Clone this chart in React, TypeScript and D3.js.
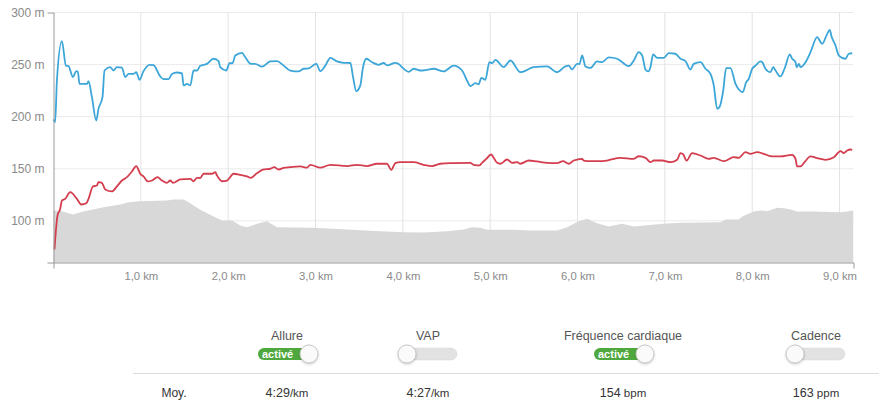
import React, { useEffect, useRef } from "react";
import * as d3 from "d3";

// Distance (km) / value pairs. Values are in the y-axis unit (m scale).
const paceKm = [0,0.019,0.039,0.096,0.142,0.172,0.222,0.26,0.279,0.298,0.383,0.401,0.44,0.489,0.515,0.561,0.584,0.649,0.687,0.726,0.784,0.821,0.859,0.916,0.947,0.985,1.031,1.1,1.145,1.222,1.26,1.317,1.356,1.413,1.471,1.489,1.528,1.566,1.604,1.643,1.68,1.757,1.833,1.89,1.909,1.978,2.016,2.05,2.081,2.158,2.196,2.261,2.31,2.387,2.482,2.559,2.635,2.711,2.806,2.864,2.921,3.009,3.055,3.112,3.17,3.246,3.322,3.399,3.43,3.467,3.513,3.544,3.582,3.647,3.723,3.78,3.819,3.914,3.952,4.009,4.066,4.124,4.2,4.277,4.353,4.467,4.582,4.678,4.735,4.773,4.83,4.868,4.899,4.945,4.991,5.022,5.06,5.155,5.231,5.346,5.498,5.652,5.766,5.861,5.899,5.938,5.995,6.022,6.053,6.091,6.148,6.224,6.282,6.357,6.454,6.511,6.586,6.644,6.701,6.74,6.778,6.809,6.835,6.866,6.912,6.987,7.045,7.121,7.179,7.236,7.293,7.331,7.408,7.465,7.522,7.56,7.599,7.629,7.668,7.702,7.751,7.809,7.866,7.892,7.931,7.961,8,8.038,8.095,8.115,8.152,8.209,8.24,8.267,8.324,8.37,8.431,8.458,8.496,8.508,8.534,8.553,8.611,8.668,8.744,8.802,8.851,8.889,8.905,8.954,8.992,9.068,9.106,9.145];
const paceVal = [197.3,194.7,234.7,272.5,249,248.5,238,243.7,243,231.5,231.5,234,218.7,196.3,207.5,218.7,244.3,247.5,244.3,247.5,247,238,241,241,242.7,235.4,243.7,249.8,249.5,238.6,236,236,241,242.4,241.5,230,231.5,230,244.3,244.3,248.8,250.7,255.6,253.3,247.5,244.3,251.3,251.3,258.7,261.3,257,250.7,250.7,248,253,253.3,249,244.3,243.4,246,246.4,250.7,243.7,249,256.5,253,251.7,251.5,238,224.5,230,247.5,255.6,252.3,249.8,251.5,249.2,251.7,250.5,246,243,246,244.3,245,246,243.4,249,244.3,234.7,229.3,232.2,231,237.3,235.4,252.3,251.5,254.6,247.5,253.9,242.7,247.5,248.2,242.7,248.2,249,245.3,250.7,250.5,258.7,248.2,246.8,253,252.3,257,255.6,252.3,248.5,253.9,261.9,258.7,245.3,243.4,247.5,259.7,256.5,256.5,261,260.4,255.6,253.3,245.3,250.7,252.3,246,241,230,207.5,209.8,225.1,246.6,246.6,231.5,224.5,223.5,233.1,236.3,246,249,253,252.3,246,242.7,247.5,244.3,238.6,246,259.7,255.6,252.3,247.5,250.7,247.5,252.3,261.9,276.3,269.9,278,283.4,278,268.3,258.7,255.6,260.4,260.9];

const hrKm = [0.011,0.046,0.077,0.096,0.134,0.191,0.268,0.317,0.375,0.401,0.451,0.497,0.515,0.554,0.592,0.669,0.726,0.784,0.841,0.898,0.947,0.993,1.031,1.081,1.127,1.191,1.242,1.299,1.337,1.368,1.451,1.566,1.604,1.643,1.68,1.718,1.814,1.852,1.872,1.929,1.986,2.062,2.139,2.215,2.261,2.33,2.405,2.482,2.528,2.577,2.635,2.711,2.826,2.903,2.94,3.055,3.17,3.361,3.475,3.59,3.704,3.819,3.868,3.914,3.971,4.124,4.238,4.334,4.429,4.582,4.773,4.811,4.876,4.907,4.956,5.01,5.04,5.079,5.117,5.194,5.251,5.308,5.346,5.441,5.537,5.652,5.766,5.835,5.899,5.957,6.053,6.071,6.148,6.262,6.339,6.491,6.644,6.701,6.778,6.835,6.873,6.969,7.064,7.141,7.179,7.21,7.248,7.313,7.408,7.503,7.56,7.675,7.789,7.847,7.923,7.98,8.057,8.133,8.229,8.324,8.458,8.496,8.515,8.553,8.599,8.668,8.744,8.839,8.935,9.011,9.049,9.088,9.126,9.145];
const hrVal = [72.5,105.1,111.6,119.5,121.1,127.5,121.1,115.7,116.9,121.1,133,133.9,137.1,136.5,130.1,128.2,133,138.7,141.9,147.4,152.5,145.2,142.6,137.8,138.7,141.9,138.7,136.5,138.7,136.5,139.7,140.3,138,141.3,141,145.2,145.2,146.7,143.5,138,138.7,145.2,144.2,142.6,141.3,145.8,149.3,150,151.5,149.3,150.9,151.5,152.2,151,153.8,151,153.8,152.5,153.8,152.5,154.8,154.8,149,155.4,156.3,156.3,153.8,152.5,154.8,155.4,155.7,153.8,153.2,155.7,159.5,163.7,160.5,155.7,154.8,158.9,155.7,156.3,154.8,157.9,157,155.7,155.4,157.3,154.8,157.9,159.5,157.9,157.3,157.3,157.9,160.5,159.5,162,160.5,156.3,157.9,157.9,156.3,158.6,165,163.7,157.9,165,162.7,159.5,160.5,157.3,161.1,160.5,165.9,164.3,165.9,164.3,161.8,161.8,163.4,159.5,152.2,152.2,156.3,161.8,160.2,158.6,161.1,166.9,165,167.5,168.5,168.2];

const elevKm = [0,0.096,0.222,0.344,0.573,0.764,0.859,0.993,1.299,1.375,1.489,1.546,1.68,1.833,1.929,2.044,2.139,2.215,2.33,2.444,2.559,2.978,3.361,3.742,4.009,4.238,4.506,4.696,4.792,4.887,4.965,5.269,5.46,5.766,5.881,6.014,6.11,6.225,6.357,6.511,6.644,6.987,7.179,7.637,7.694,7.847,7.886,8.018,8.095,8.171,8.286,8.362,8.439,8.515,8.706,9.011,9.088,9.157];
const elevVal = [109.9,109.3,106.1,109,113.1,115.7,117.9,118.9,119.5,120.5,120.5,117.9,110.6,104.2,100.3,100.3,95.5,93.9,97.1,99.7,93.9,93.3,91.7,90.1,89.1,88.8,90.1,91.7,93.9,93.3,91.4,91.4,90.7,90.7,93.9,99.7,102,97.7,94.6,97.1,94.6,97.1,98.1,98.7,101.3,101.3,104.2,109,110,109.3,112.5,112.2,110.9,109,109,108.3,109,110];

const xTicks = [1, 2, 3, 4, 5, 6, 7, 8, 9];
const yTicks = [100, 150, 200, 250, 300];
const xMax = 9.16;
const yDomain = [60, 300];

const toggles = [
  { label: "Allure", on: true, value: "4:29", unit: "/km" },
  { label: "VAP", on: false, value: "4:27", unit: "/km" },
  { label: "Fréquence cardiaque", on: true, value: "154", unit: " bpm" },
  { label: "Cadence", on: false, value: "163", unit: " ppm" },
];
const toggleCenters = [287, 428, 623, 816];

const FONT = "'Helvetica Neue', Helvetica, Arial, 'Liberation Sans', sans-serif";

export default function App() {
  const xAxisRef = useRef<SVGGElement>(null);
  const yAxisRef = useRef<SVGGElement>(null);

  const x = d3.scaleLinear().domain([0, xMax]).range([53.5, 853.5]);
  const y = d3.scaleLinear().domain(yDomain).range([262.5, 12.5]);

  useEffect(() => {
    const fmt = (d: number) => d3.format(".1f")(d).replace(".", ",") + " km";
    const gx = d3.select(xAxisRef.current!);
    gx.call(
      d3.axisBottom(x).tickValues(xTicks).tickSizeInner(0).tickSizeOuter(6).tickPadding(9).tickFormat(fmt as any) as any
    );
    gx.select(".domain").attr("stroke", "#9a9a9a");
    gx.selectAll("text").attr("fill", "#8a8a8a").style("font-size", "11.3px").style("font-family", FONT);

    const gy = d3.select(yAxisRef.current!);
    gy.call(
      d3.axisLeft(y).tickValues(yTicks).tickSizeInner(0).tickSizeOuter(6).tickPadding(9).tickFormat(((d: number) => `${d} m`) as any) as any
    );
    gy.select(".domain").attr("stroke", "#9a9a9a");
    gy.selectAll("text").attr("fill", "#8a8a8a").style("font-size", "12px").style("font-family", FONT);
  }, []);

  const elevData = elevKm.map((k, i) => [k, elevVal[i]] as [number, number]);
  const paceData = paceKm.map((k, i) => [k, paceVal[i]] as [number, number]);
  const hrData = hrKm.map((k, i) => [k, hrVal[i]] as [number, number]);

  const area = d3
    .area<[number, number]>()
    .x((d) => x(d[0]))
    .y0(y(yDomain[0]))
    .y1((d) => y(d[1]));
  const line = d3
    .line<[number, number]>()
    .x((d) => x(d[0]))
    .y((d) => y(d[1]))
    .curve(d3.curveMonotoneX);

  return (
    <svg
      width={879}
      height={419}
      style={{ position: "absolute", left: 0, top: 0, fontFamily: FONT, background: "#fff" }}
    >
      <g>
        {yTicks.map((t) => (
          <line key={"gy" + t} x1={x(0)} x2={x(xMax)} y1={y(t)} y2={y(t)} stroke="#ebebeb" strokeWidth={1} />
        ))}
        {xTicks.map((t) => (
          <line key={"gx" + t} x1={x(t)} x2={x(t)} y1={y(yDomain[1])} y2={y(yDomain[0])} stroke="#e3e3e3" strokeWidth={1} />
        ))}
      </g>
      <path d={area(elevData) || ""} fill="#d8d8d8" />
      <path d={line(hrData) || ""} fill="none" stroke="#d33d4e" strokeWidth={1.8} strokeLinejoin="round" />
      <path d={line(paceData) || ""} fill="none" stroke="#3da6d8" strokeWidth={1.8} strokeLinejoin="round" />
      <g ref={xAxisRef} transform={`translate(0,${y(yDomain[0])})`} />
      <g ref={yAxisRef} transform={`translate(${x(0)},0)`} />

      {toggles.map((t, i) => {
        const cx = toggleCenters[i];
        const pillW = 58;
        const left = cx - pillW / 2;
        const knobX = t.on ? left + 51 : left + 8;
        return (
          <g key={t.label}>
            <text x={cx} y={340} textAnchor="middle" fontSize={12.5} fill="#555">
              {t.label}
            </text>
            <rect x={left} y={348} width={pillW} height={12} rx={6} fill={t.on ? "#4fa83d" : "#e2e2e2"} stroke={t.on ? "none" : "#d6d6d6"} strokeWidth={0.5} />
            {t.on && (
              <text x={left + 4} y={358} fontSize={11} fontWeight="bold" fill="#fff">
                activé
              </text>
            )}
            <circle cx={knobX} cy={354} r={9} fill="#fafafa" stroke="#c8c8c8" strokeWidth={1} style={{ filter: "drop-shadow(0px 1px 1px rgba(0,0,0,0.2))" }} />
            <text x={cx} y={397} textAnchor="middle" fontSize={12.5} fill="#333">
              {t.value}
              <tspan fontSize={11.5}>{t.unit}</tspan>
            </text>
          </g>
        );
      })}
      <line x1={133} x2={879} y1={373.5} y2={373.5} stroke="#dcdcdc" strokeWidth={1} />
      <text x={174} y={397} textAnchor="middle" fontSize={12} fill="#333">
        Moy.
      </text>
    </svg>
  );
}
